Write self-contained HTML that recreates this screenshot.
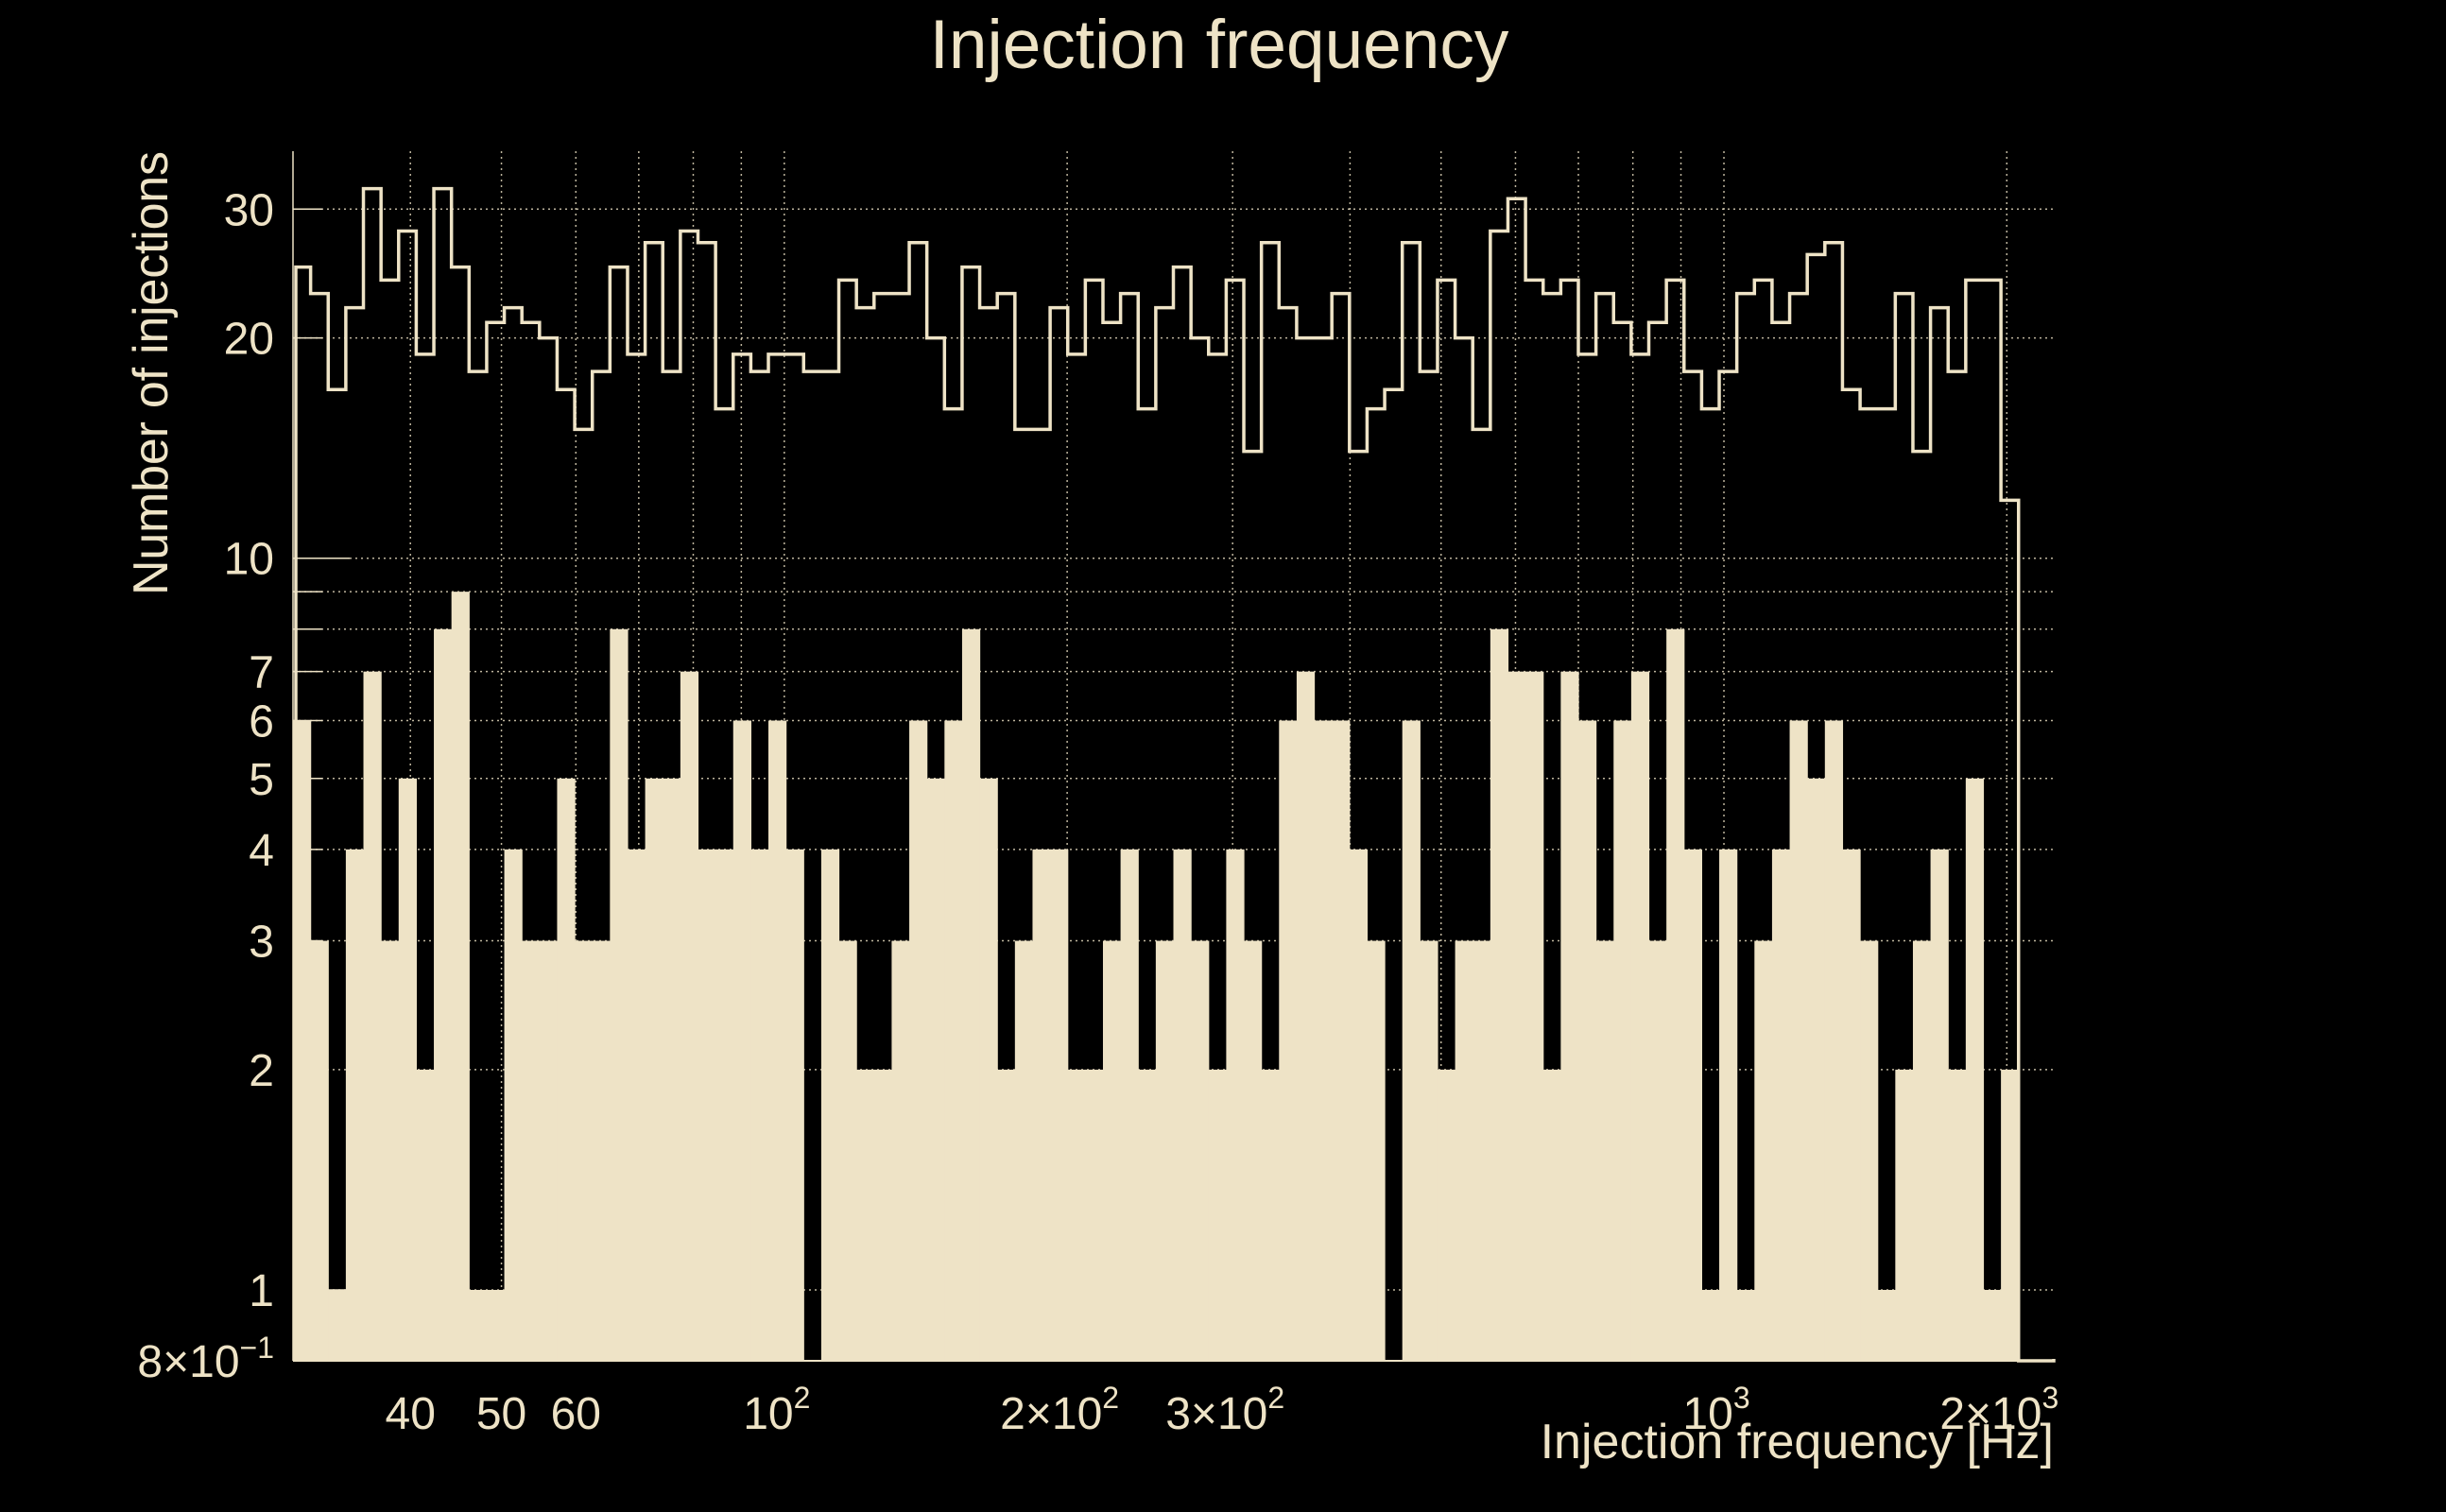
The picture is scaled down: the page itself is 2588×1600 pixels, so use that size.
<!DOCTYPE html>
<html><head><meta charset="utf-8">
<style>
html,body{margin:0;padding:0;background:#000;}
svg{display:block;}
text{font-family:"Liberation Sans",sans-serif;fill:#EEE3C6;}
</style></head>
<body>
<svg id="chart" width="2588" height="1600" viewBox="0 0 2588 1600" xmlns="http://www.w3.org/2000/svg">
<rect x="0" y="0" width="2588" height="1600" fill="#000"/>
<text x="1290" y="72" font-size="73" text-anchor="middle">Injection frequency</text>
<text transform="translate(177,395) rotate(-90)" font-size="52" text-anchor="middle" textLength="470">Number of injections</text>
<text x="2173" y="1543" font-size="52" text-anchor="end">Injection frequency [Hz]</text>
<g id="grid"></g>
<g id="bars"></g>
<g id="line"></g>
<g id="axes"></g>
</svg>
<script>
const filledCounts = [6,3,1,4,7,3,5,2,8,9, 1,1,4,3,3,5,3,3,8,4, 5,5,7,4,4,6,4,6,4,0, 4,3,2,2,3,6,5,6,8,5, 2,3,4,4,2,2,3,4,2,3, 4,3,2,4,3,2,6,7,6,6, 4,3,0,6,3,2,3,3,8,7, 7,2,7,6,3,6,7,3,8,4, 1,4,1,3,4,6,5,6,4,3, 1,2,3,4,2,5,1,2,0,0];
const outlineCounts = [25,23,17,22,32,24,28,19,32,25, 18,21,22,21,20,17,15,18,25,19, 27,18,28,27,16,19,18,19,19,18, 18,24,22,23,23,27,20,16,25,22, 23,15,15,22,19,24,21,23,16,22, 25,20,19,24,14,27,22,20,20,23, 14,16,17,27,18,24,20,15,28,31, 24,23,24,19,23,21,19,21,24,18, 16,18,23,24,21,23,26,27,17,16, 16,23,14,22,18,24,24,12,0,0];
const xRange = [30, 2244];
const yRange = [0.8, 36];
const xTickValues = [40,50,60,100,200,300,1000,2000];
const xTickMain = ["40","50","60","10","2\u00d710","3\u00d710","10","2\u00d710"];
const xTickExp = ["","","","2","2","2","3","3"];
const xGridValues = [40,50,60,70,80,90,100,200,300,400,500,600,700,800,900,1000,2000];
const yTickValues = [0.8,1,2,3,4,5,6,7,10,20,30];
const yTickMain = ["8\u00d710","1","2","3","4","5","6","7","10","20","30"];
const yTickExp = ["\u22121","","","","","","","","","",""];
const yGridValues = [1,2,3,4,5,6,7,8,9,10,20,30];

const PL=310, PR=2173, PT=160, PB=1440;
const C="#EEE3C6";
const NS="http://www.w3.org/2000/svg";
function xs(f){return PL+(Math.log10(f)-Math.log10(xRange[0]))/(Math.log10(xRange[1])-Math.log10(xRange[0]))*(PR-PL);}
function ys(v){const c=Math.max(v,yRange[0]);return PB-(Math.log10(c)-Math.log10(yRange[0]))/(Math.log10(yRange[1])-Math.log10(yRange[0]))*(PB-PT);}
function mk(tag,attrs,parent){const e=document.createElementNS(NS,tag);for(const k in attrs)e.setAttribute(k,attrs[k]);parent.appendChild(e);return e;}
const nb=filledCounts.length;
const edges=[];for(let i=0;i<=nb;i++)edges.push(xRange[0]*Math.pow(xRange[1]/xRange[0],i/nb));

const grid=document.getElementById('grid');
yGridValues.forEach(v=>{const l=mk('line',{x1:PL,x2:PR,y1:ys(v),y2:ys(v),stroke:C,'stroke-width':1.5,'stroke-dasharray':'2 4',opacity:0.8},grid);

});
xGridValues.forEach(v=>{const l=mk('line',{x1:xs(v),x2:xs(v),y1:PT,y2:PB,stroke:C,'stroke-width':1.5,'stroke-dasharray':'2 4',opacity:0.8},grid);

});

const bars=document.getElementById('bars');
filledCounts.forEach((v,i)=>{if(v<=0)return;const x0=xs(edges[i]),x1=xs(edges[i+1]);
const r=mk('rect',{x:x0,y:ys(v),width:x1-x0+0.6,height:PB-ys(v),fill:C},bars);

});

let d='M'+(PL+3)+','+PB;
outlineCounts.forEach((v,i)=>{const x0=Math.max(xs(edges[i]),PL+3),x1=xs(edges[i+1]);d+=' L'+x0+','+ys(v)+' L'+x1+','+ys(v);});
d+=' L'+PR+','+(PB-2);
const p=mk('path',{d:d,fill:'none',stroke:C,'stroke-width':3.5},document.getElementById('line'));



const axes=document.getElementById('axes');
const ya=mk('line',{x1:PL,x2:PL,y1:PT,y2:PB,stroke:C,'stroke-width':1.5},axes);


const xa=mk('line',{x1:PL,x2:PR,y1:PB,y2:PB,stroke:C,'stroke-width':2},axes);


yGridValues.forEach(v=>{const len=(v===1||v===10)?60:31;const t=mk('line',{x1:PL,x2:PL+len,y1:ys(v),y2:ys(v),stroke:C,'stroke-width':1.5},axes);

});
yTickValues.forEach((v,i)=>{const t=mk('text',{x:290,y:ys(v)+17,'font-size':48,'text-anchor':'end'},axes);


t.appendChild(document.createTextNode(yTickMain[i]));
if(yTickExp[i]){const s=mk('tspan',{dy:-20,'font-size':32},t);s.textContent=yTickExp[i];}});
xTickValues.forEach((v,i)=>{const hasExp=!!xTickExp[i];const t=mk('text',{x:xs(v)+(hasExp?-8:0),y:1512,'font-size':48,'text-anchor':'middle'},axes);


t.appendChild(document.createTextNode(xTickMain[i]));
if(hasExp){const s=mk('tspan',{dy:-22,'font-size':32},t);s.textContent=xTickExp[i];}});
</script>
</body></html>
